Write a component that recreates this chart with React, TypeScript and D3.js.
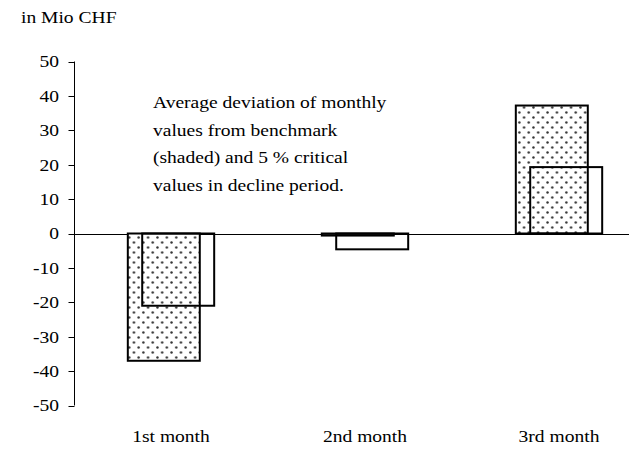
import React from "react";
import * as d3 from "d3";

const categories = ["1st month", "2nd month", "3rd month"];
const deviation = [-37, -0.6, 37.2];
const critical = [-21, -4.6, 19.3];
const yTicks = [50, 40, 30, 20, 10, 0, -10, -20, -30, -40, -50];
const unitLabel = "in Mio CHF";
const noteLines = [
  "Average deviation of monthly",
  "values from benchmark",
  "(shaded) and 5 % critical",
  "values in decline period.",
];

const W = 629;
const H = 451;
const FONT = "'Liberation Serif', 'Times New Roman', serif";
const FS = 17;
const SX = 1.15;

function T({ x, y, anchor = "start", children }: any) {
  return (
    <g transform={`translate(${x},${y}) scale(${SX},1)`}>
      <text x={0} y={0} textAnchor={anchor} fontFamily={FONT} fontSize={FS} fill="#000">
        {children}
      </text>
    </g>
  );
}

export default function App() {
  const x = d3.scaleBand<string>().domain(categories).range([74, 656]).padding(0);
  const y = d3.scaleLinear().domain([-50, 50]).range([405.5, 61.5]);
  const bw = x.bandwidth();
  const barW = bw * 0.371;
  const offset = barW * 0.2;
  const groupW = barW + offset;
  const axisX = 74.5;
  const y0 = y(0);

  return (
    <svg width={W} height={H} style={{ position: "absolute", left: 0, top: 0, background: "#fff" }}>
      <defs>
        <pattern id="dots" patternUnits="userSpaceOnUse" width={9.4} height={10}>
          <rect width={9.4} height={10} fill="#fff" />
          <circle cx={2.35} cy={2.5} r={1.2} fill="#333" />
          <circle cx={7.05} cy={7.5} r={1.2} fill="#333" />
        </pattern>
      </defs>
      <rect width={W} height={H} fill="#fff" />
      <T x={21} y={22.5}>{unitLabel}</T>

      {/* y axis */}
      <line x1={axisX} x2={axisX} y1={y(50)} y2={y(-50)} stroke="#000" strokeWidth={1} />
      {yTicks.map((t) => (
        <g key={t}>
          <line x1={axisX - 6} x2={axisX} y1={Math.round(y(t)) + 0.5} y2={Math.round(y(t)) + 0.5} stroke="#000" />
          <T x={59} y={y(t) + 5.8} anchor="end">{t}</T>
        </g>
      ))}

      {/* zero line */}
      <line x1={axisX} x2={W} y1={Math.round(y0) + 0.5} y2={Math.round(y0) + 0.5} stroke="#000" strokeWidth={1} />

      {/* shaded bars */}
      {categories.map((c, i) => {
        const cx = (x(c) as number) + bw / 2;
        const left = cx - groupW / 2;
        const v = deviation[i];
        return (
          <rect
            key={"s" + c}
            x={left}
            y={Math.min(y(v), y0)}
            width={barW}
            height={Math.abs(y(v) - y0)}
            fill="url(#dots)"
            stroke="#000"
            strokeWidth={2}
          />
        );
      })}
      {/* outline bars */}
      {categories.map((c, i) => {
        const cx = (x(c) as number) + bw / 2;
        const left = cx - groupW / 2 + offset;
        const v = critical[i];
        return (
          <rect
            key={"o" + c}
            x={left}
            y={Math.min(y(v), y0)}
            width={barW}
            height={Math.abs(y(v) - y0)}
            fill="none"
            stroke="#000"
            strokeWidth={2}
          />
        );
      })}

      {categories.map((c) => (
        <T key={"l" + c} x={(x(c) as number) + bw / 2} y={442} anchor="middle">{c}</T>
      ))}

      {noteLines.map((l, i) => (
        <T key={"n" + i} x={153} y={108 + i * 27.6}>{l}</T>
      ))}
    </svg>
  );
}
